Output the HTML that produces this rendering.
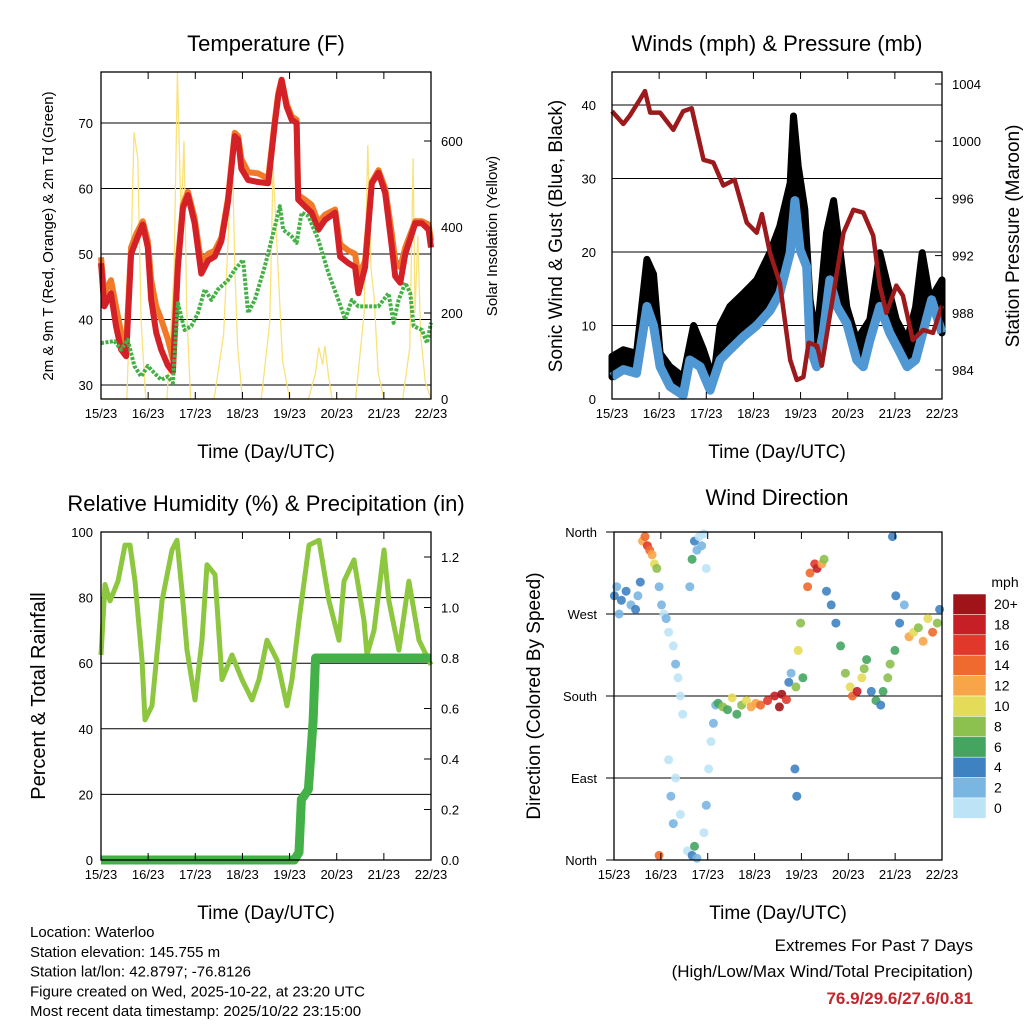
<!DOCTYPE html>
<html><head><meta charset="utf-8">
<style>
body{margin:0;background:#fff;}
svg{display:block;font-family:"Liberation Sans",Arial,sans-serif;}
</style></head>
<body>
<svg id="c" width="1024" height="1024" viewBox="0 0 1024 1024"></svg>
<script>
// ---------- DATA ----------
const dayTicks = ["15/23","16/23","17/23","18/23","19/23","20/23","21/23","22/23"];
// Temperature panel
const tDays = [0,0.071,0.213,0.319,0.426,0.532,0.638,0.745,0.887,0.993,1.064,1.170,1.277,1.418,1.525,1.631,1.738,1.844,1.986,2.128,2.270,2.411,2.553,2.695,2.837,2.908,2.979,3.121,3.333,3.546,3.688,3.759,3.830,3.936,4.043,4.149,4.184,4.326,4.468,4.610,4.752,4.965,5.071,5.248,5.390,5.461,5.603,5.745,5.887,6.028,6.170,6.241,6.348,6.454,6.667,6.809,6.950,7.0];
const tRed = [48.6,42,44,39,35.4,34.4,50,52,54.5,51,43,38,35.4,33,32,48,57,59,54.7,47,49,49.6,52,58,68,67.5,63,61.3,61,60.8,70,74,76.6,72.5,70.5,70,58.3,57.3,56.3,53.7,55.2,56.3,49.6,48.6,48,44,48,60.8,62.4,59.3,51,46.6,45.6,50,54.7,54.7,53.7,51];
const tOrange = [49.5,44,46,42,38,36,51,53,55,52,46,42,40,37,34,49,57.5,59.5,55.5,48.5,50,50.5,52.5,58.5,68.5,68,64.5,62.5,62.3,61.5,70.5,74.5,76.6,73,71,70.5,59,58.3,57.5,54.8,56,56.8,51.5,50.5,50,46.5,49,61,62.8,60,53,49,48,51,55,55,54.5,52];
const gDays = [0,0.284,0.426,0.567,0.709,0.851,0.993,1.135,1.277,1.418,1.525,1.631,1.773,1.915,2.057,2.199,2.340,2.482,2.695,2.837,3.014,3.121,3.262,3.475,3.688,3.794,3.865,4.043,4.149,4.255,4.397,4.610,4.823,5.035,5.177,5.319,5.461,5.674,5.887,6.099,6.206,6.312,6.454,6.560,6.631,6.809,6.915,7.0];
const tDew = [36.4,36.7,35.4,36.9,32.9,31.3,32.9,31.8,30.8,31.3,30.3,42.5,38.4,39,41,44.6,43,44.6,46,47.6,49.1,41,43,48.1,54.2,57.3,53.7,52.7,51.7,56.3,55.8,52.2,47.1,43,40,43,42,42,42,44,39.5,43,45.6,44,39,38.4,36.4,39.5];
const sDays = [0,0.55,0.62,0.70,0.78,0.85,0.95,1.4,1.55,1.62,1.70,1.76,1.82,1.9,2.4,2.6,2.70,2.78,2.84,2.9,3.0,3.4,3.58,3.65,3.72,3.78,3.85,4.0,4.4,4.55,4.62,4.70,4.75,4.82,4.9,5.4,5.58,5.66,5.73,5.79,5.88,6.0,6.4,6.55,6.62,6.66,6.72,6.78,6.88,7.0];
const sVals = [0,0,250,620,560,180,0,0,300,760,420,600,200,0,0,150,380,600,300,120,0,0,180,540,380,250,90,0,0,60,120,80,123,60,0,0,200,590,300,240,60,0,0,120,560,200,380,150,40,0];
// Wind panel
const wDays = [0,0.24,0.52,0.74,0.88,1.02,1.23,1.51,1.65,1.87,2.08,2.29,2.50,2.79,3.07,3.35,3.56,3.78,3.88,3.99,4.13,4.20,4.34,4.48,4.62,4.77,4.98,5.19,5.33,5.47,5.68,5.89,6.08,6.26,6.44,6.78,7.0];
const wSonic = [3,4,3.5,12.6,10,4.4,1.7,0.5,5.3,4.4,1.2,5.3,6.7,8.5,10,12,14.4,19.9,27,20.3,18,7,4.4,9,16.2,12.6,10.3,5.3,4.4,8,12.6,9,6.7,4.4,5.3,13.5,9];
const gDaysW = [0,0.24,0.52,0.74,0.88,1.02,1.23,1.51,1.73,1.94,2.15,2.29,2.50,2.79,3.07,3.35,3.56,3.78,3.85,3.95,4.09,4.20,4.34,4.55,4.70,4.84,4.98,5.19,5.47,5.68,5.82,6.03,6.26,6.44,6.58,6.75,7.0];
const wGust = [5.8,6.7,6.2,19,17,6.2,4.4,3,10,6.7,2.6,10,12.6,14.4,16.2,19.9,23.5,29.4,38.5,31.7,25.8,13.5,8,22.6,27,20,12.5,8,10.8,19.9,16.2,10.8,8,12.5,19.9,13.5,16.2];
const pDays = [0,0.24,0.38,0.59,0.70,0.81,1.02,1.30,1.51,1.69,1.94,2.15,2.36,2.60,2.86,3.07,3.18,3.35,3.56,3.78,3.92,4.06,4.17,4.35,4.45,4.63,4.91,5.12,5.33,5.54,5.68,5.82,6.03,6.17,6.38,6.60,6.81,7.0];
const pStation = [1002.1,1001.2,1001.8,1002.9,1003.5,1002,1002,1000.8,1002.1,1002.3,998.7,998.5,996.9,997.3,994.3,993.6,994.9,992.2,990.1,984.7,983.3,983.5,985.9,985.7,984.3,988,993.6,995.2,995,993.4,989.9,988,989.9,989.2,986.1,986.8,986.6,988.5];
// RH panel
const rhDays = [0,0.085,0.191,0.361,0.509,0.616,0.722,0.870,0.934,1.082,1.294,1.506,1.612,1.718,1.825,1.994,2.143,2.249,2.419,2.567,2.779,2.991,3.203,3.351,3.521,3.733,3.945,4.051,4.200,4.412,4.624,4.836,5.048,5.154,5.366,5.578,5.642,5.790,6.002,6.108,6.320,6.532,6.745,7.0];
const rhVals = [62.5,84,79,85,96,96,85,61,42.7,47,79,94.5,97.5,82,64,48.8,67,90,87,55,62.5,55,48.8,55,67,61,47,55,73,96,97.5,79,67,85,91.5,73,62.5,70,94.5,79,64,85,67,59.5,64];
const prDays = [0,4.1,4.2,4.25,4.33,4.4,4.5,4.55,4.62,7];
const prVals = [0,0,0.03,0.24,0.26,0.28,0.55,0.8,0.8,0.8];
// Wind direction panel
const dirDays = [0.05,0.1,0.15,0.2,0.3,0.4,0.5,0.55,0.6,0.65,0.7,0.75,0.8,0.85,0.9,0.95,1.0,1.05,1.1,1.15,1.2,1.3,1.35,1.4,1.45,1.5,1.2,1.25,1.3,1.35,1.45,1.65,1.7,1.75,1.8,1.85,1.9,1.95,2.0,1.6,1.7,1.75,1.8,1.95,2.0,2.05,2.1,2.15,2.2,2.25,2.35,2.45,2.55,2.65,2.75,2.85,2.95,3.05,3.15,3.3,3.45,3.55,3.6,3.7,3.75,3.8,3.9,3.95,4.0,4.05,3.88,3.92,4.15,4.2,4.3,4.35,4.45,4.5,4.55,4.65,4.75,4.85,4.95,5.05,5.1,5.2,5.3,5.35,5.4,5.5,5.6,5.7,5.75,5.85,5.9,6.0,6.1,6.2,6.3,6.4,6.5,6.6,6.7,6.8,6.9,6.95,5.95,6.02,1.0];
const dirDeg = [290,300,270,285,295,280,275,290,305,350,355,345,340,335,325,320,300,280,270,265,250,235,215,200,180,160,110,70,40,90,50,300,330,350,340,355,345,358,320,10,5,15,2,30,60,100,130,150,170,172,168,165,178,160,170,175,168,172,170,175,180,168,182,176,195,205,190,230,260,200,100,70,300,315,325,320,325,330,295,280,260,235,205,190,180,185,200,210,220,185,175,170,185,200,215,230,260,280,245,250,255,240,265,250,260,275,355,290,5];
const dirSpd = [4,3,3,4,4,3,4,3,4,12,14,16,14,12,10,8,2,2,1,2,1,1,2,0,1,1,1,2,3,0,1,2,6,5,3,1,2,1,0,1,4,6,3,1,2,1,1,2,3,6,8,7,10,6,8,10,12,12,14,16,18,20,20,16,4,3,8,10,9,6,4,4,14,14,16,18,12,8,4,4,4,6,8,10,14,18,10,8,6,4,6,4,6,8,8,6,4,3,12,10,8,12,10,14,8,4,4,4,14];
const cbLabels = ["20+","18","16","14","12","10","8","6","4","2","0"];
const cbColors = ["#a01419","#c71f26","#e0382b","#ee6a2e","#f8a54a","#e4dc58","#8cc04f","#44a560","#3f82c2","#7ab6e2","#bde4f6"];

// ---------- HELPERS ----------
const NS="http://www.w3.org/2000/svg";
const svg=document.getElementById('c');
function mk(tag,attrs,parent,text){const e=document.createElementNS(NS,tag);for(const k in attrs)e.setAttribute(k,attrs[k]);if(text!==undefined)e.textContent=text;(parent||svg).appendChild(e);return e;}
function grp(name){const g=mk('g',{});return g;}
function txt(g,x,y,s,size,anchor,extra){const e=mk('text',Object.assign({x:x,y:y,'font-size':size,'text-anchor':anchor||'middle',fill:'#000'},extra||{}),g,s);return e;}
function xScale(x0,x1){return d=>x0+(x1-x0)*d/7;}
function poly(g,xs,ys,xf,yf,attrs){let p=xs.map((d,i)=>xf(d).toFixed(1)+','+yf(ys[i]).toFixed(1)).join(' ');return mk('polyline',Object.assign({points:p,fill:'none'},attrs),g);}
function frame(g,x0,x1,y0,y1){
  mk('rect',{x:x0,y:y0,width:x1-x0,height:y1-y0,fill:'none',stroke:'#000','stroke-width':1.3},g);
  const xf=xScale(x0,x1);
  dayTicks.forEach((t,i)=>{const x=xf(i);
    mk('line',{x1:x,x2:x,y1:y1,y2:y1-7,stroke:'#000','stroke-width':1},g);
    mk('line',{x1:x,x2:x,y1:y0,y2:y0+7,stroke:'#000','stroke-width':1},g);
    const l=txt(g,x,y1+19,t,13);
  });
  const xl=txt(g,(x0+x1)/2,y1+59,'Time (Day/UTC)',19);
  
}
function hgrid(g,x0,x1,ys){ys.forEach(y=>mk('line',{x1:x0,x2:x1,y1:y,y2:y,stroke:'#000','stroke-width':1},g));}

// ---------- PANEL 1: Temperature ----------
(function(){
  const g=grp('temperature-panel');
  const x0=101,x1=431,y0=72,y1=399,xf=xScale(x0,x1);
  const ty=t=>385-(t-30)*6.55, sy=s=>399-s*0.43;
  const t=txt(g,266,51,'Temperature (F)',22);
  [30,40,50,60,70].forEach(v=>{hgrid(g,x0,x1,[ty(v)]);const l=txt(g,x0-8,ty(v)+5,String(v),13,'end');});
  [0,200,400,600].forEach(v=>{mk('line',{x1:x1,x2:x1-7,y1:sy(v),y2:sy(v),stroke:'#000'},g);const l=txt(g,x1+10,sy(v)+5,String(v),13,'start');});
  const s=poly(g,sDays,sVals,xf,sy,{stroke:'#f9e27a','stroke-width':1.3});
  const o=poly(g,tDays,tOrange,xf,ty,{stroke:'#f07a28','stroke-width':6,'stroke-linejoin':'round'});
  const r=poly(g,tDays,tRed,xf,ty,{stroke:'#d42027','stroke-width':6,'stroke-linejoin':'round'});
  const d=poly(g,gDays,tDew,xf,ty,{stroke:'#45b046','stroke-width':4,'stroke-dasharray':'3 1.5','stroke-linejoin':'round'});
  frame(g,x0,x1,y0,y1);
  const a=txt(g,0,0,'2m & 9m T (Red, Orange) & 2m Td (Green)',15,'middle',{transform:'translate(53,236) rotate(-90)'});
  const b=txt(g,0,0,'Solar Insolation (Yellow)',15,'middle',{transform:'translate(497,236) rotate(-90)'});
})();

// ---------- PANEL 2: Winds ----------
(function(){
  const g=grp('winds-pressure-panel');
  const x0=612,x1=942,y0=72,y1=399,xf=xScale(x0,x1);
  const wy=w=>399-w*7.35, py=p=>370-(p-984)*14.3;
  const t=txt(g,777,51,'Winds (mph) & Pressure (mb)',22);
  [0,10,20,30,40].forEach(v=>{if(v>0)hgrid(g,x0,x1,[wy(v)]);const l=txt(g,x0-16,wy(v)+5,String(v),13,'end');});
  [984,988,992,996,1000,1004].forEach(v=>{mk('line',{x1:x1,x2:x1-7,y1:py(v),y2:py(v),stroke:'#000'},g);const l=txt(g,x1+10,py(v)+5,String(v),13,'start');});
  const up=gDaysW.map((d,i)=>xf(d).toFixed(1)+','+wy(wGust[i]).toFixed(1));
  const lo=wDays.map((d,i)=>xf(d).toFixed(1)+','+wy(wSonic[i]).toFixed(1)).reverse();
  const band=mk('polygon',{points:up.concat(lo).join(' '),fill:'#000',stroke:'#000','stroke-width':7,'stroke-linejoin':'round'},g);
  
  const s=poly(g,wDays,wSonic,xf,wy,{stroke:'#4f98d3','stroke-width':9,'stroke-linejoin':'round'});
  const p=poly(g,pDays,pStation,xf,py,{stroke:'#9c1a1c','stroke-width':4.5,'stroke-linejoin':'round'});
  mk('rect',{x:x0-8,y:y1+1,width:x1-x0+16,height:10,fill:'#fff'},g);
  frame(g,x0,x1,y0,y1);
  const a=txt(g,0,0,'Sonic Wind & Gust (Blue, Black)',19,'middle',{transform:'translate(562,236) rotate(-90)'});
  const b=txt(g,0,0,'Station Pressure (Maroon)',19,'middle',{transform:'translate(1019,236) rotate(-90)'});
})();

// ---------- PANEL 3: RH ----------
(function(){
  const g=grp('humidity-precip-panel');
  const x0=101,x1=431,y0=532,y1=860,xf=xScale(x0,x1);
  const ry=r=>860-r*3.28, qy=p=>860-p*252.5;
  const t=txt(g,266,511,'Relative Humidity (%) & Precipitation (in)',22);
  [0,20,40,60,80,100].forEach(v=>{if(v>0&&v<100)hgrid(g,x0,x1,[ry(v)]);const l=txt(g,x0-8,ry(v)+5,String(v),13,'end');});
  [0,0.2,0.4,0.6,0.8,1.0,1.2].forEach(v=>{mk('line',{x1:x1,x2:x1-7,y1:qy(v),y2:qy(v),stroke:'#000'},g);const l=txt(g,x1+10,qy(v)+5,v.toFixed(1),13,'start');});
  const r=poly(g,rhDays,rhVals,xf,ry,{stroke:'#8dc63f','stroke-width':5,'stroke-linejoin':'round'});
  const p=poly(g,prDays,prVals,xf,qy,{stroke:'#44b148','stroke-width':9,'stroke-linejoin':'round'});
  frame(g,x0,x1,y0,y1);
  const a=txt(g,0,0,'Percent & Total Rainfall',20,'middle',{transform:'translate(45,696) rotate(-90)'});
})();

// ---------- PANEL 4: Wind direction ----------
(function(){
  const g=grp('wind-direction-panel');
  const x0=614,x1=942,y0=532,y1=860,xf=xScale(612,942);
  const dy=d=>860-d/360*328;
  const t=txt(g,777,505,'Wind Direction',22);
  const names=['North','East','South','West','North'];
  names.forEach((n,i)=>{const y=dy(i*90);mk('line',{x1:606,x2:x1,y1:y,y2:y,stroke:'#000','stroke-width':1},g);const l=txt(g,597,y+5,n,13,'end');});
  dirDays.forEach((d,i)=>{
    const idx=Math.max(0,Math.min(10,10-Math.floor(dirSpd[i]/2)));
    const c=mk('circle',{cx:xf(d).toFixed(1),cy:dy(dirDeg[i]).toFixed(1),r:4.5,fill:cbColors[idx],'fill-opacity':0.9},g);
    
    
  });
  frame(g,x0,x1,y0,y1);
  const a=txt(g,0,0,'Direction (Colored By Speed)',19,'middle',{transform:'translate(540,696) rotate(-90)'});
  const cb=grp('speed-colorbar');
  txt(cb,1005,587,'mph',14);
  const top=594,h=20.4;
  cbColors.forEach((c,i)=>{
    const r=mk('rect',{x:953,y:top+i*h,width:33,height:h,fill:c,stroke:'#fff','stroke-width':0.5},cb);
    
    
    const l=txt(cb,994,top+i*h+15,cbLabels[i],14,'start');
    
    
  });
})();

// ---------- FOOTER ----------
(function(){
  const g=grp('station-info');
  ['Location: Waterloo','Station elevation: 145.755 m','Station lat/lon: 42.8797; -76.8126','Figure created on Wed, 2025-10-22, at 23:20 UTC','Most recent data timestamp: 2025/10/22 23:15:00'].forEach((s,i)=>{
    const l=txt(g,30,937+i*19.8,s,15,'start');
  });
  const e=grp('extremes-summary');
  txt(e,973,951,'Extremes For Past 7 Days',17,'end');
  txt(e,973,977,'(High/Low/Max Wind/Total Precipitation)',17,'end');
  const v=txt(e,973,1004,'76.9/29.6/27.6/0.81',17,'end',{'font-weight':'bold',fill:'#c1272d'});
  
})();
</script>
</body></html>
